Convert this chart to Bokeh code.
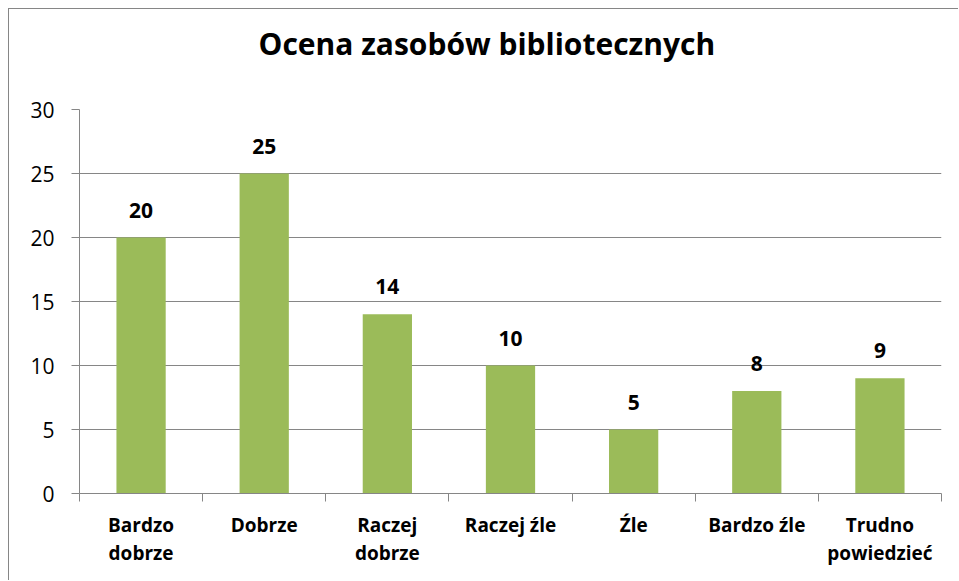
from bokeh.plotting import figure
from bokeh.models import ColumnDataSource, LabelSet, FixedTicker, Range1d, Title
from bokeh.core.properties import value
from bokeh.embed import file_html
from bokeh.resources import INLINE

# ---- data ----
title_text = "Ocena zasobów bibliotecznych"
categories = ["Bardzo\ndobrze", "Dobrze", "Raczej\ndobrze", "Raczej źle", "Źle", "Bardzo źle", "Trudno\npowiedzieć"]
values = [20, 25, 14, 10, 5, 8, 9]
y_ticks = [0, 5, 10, 15, 20, 25, 30]

GRAY = "#868686"
GREEN = "#9BBB59"
FONT = "Open Sans"

positions = list(range(len(categories)))
source = ColumnDataSource(dict(
    x=positions,
    top=values,
    label=[str(v) for v in values],
))

p = figure(
    width=950, height=572, title=None,
    output_backend="svg", toolbar_location=None,
    x_range=Range1d(-0.5, len(categories) - 0.5),
    y_range=Range1d(y_ticks[0], y_ticks[-1]),
    min_border_left=70, min_border_right=18,
    min_border_top=100, min_border_bottom=88,
    styles={"margin-left": "8px", "margin-top": "8px",
            "border-left": f"1px solid {GRAY}", "border-top": f"1px solid {GRAY}"},
)
p.outline_line_color = None
p.background_fill_color = "white"
p.border_fill_color = "white"

# spacer between title and plot frame, then the real title above it
p.add_layout(Title(text=" ", text_font=FONT, text_font_size="10px", standoff=25), "above")
p.add_layout(Title(text=title_text, align="left", offset=179, standoff=10,
                   text_font=FONT, text_font_size="30px", text_font_style="bold",
                   text_color="black"), "above")

p.vbar(x="x", top="top", width=0.4, bottom=0, source=source,
       fill_color=GREEN, line_color=None)

labels = LabelSet(x="x", y="top", text="label", source=source,
                  text_align="center", text_baseline="alphabetic", y_offset=20,
                  text_font=value(FONT), text_font_size=value("21px"),
                  text_font_style=value("bold"), text_color=value("black"))
p.add_layout(labels)

# y axis
yax = p.yaxis[0]
yax.ticker = FixedTicker(ticks=y_ticks)
yax.axis_line_color = GRAY
yax.major_tick_line_color = GRAY
yax.major_tick_out = 8
yax.major_tick_in = 0
yax.minor_tick_line_color = None
yax.major_label_standoff = 17
yax.major_label_text_font = FONT
yax.major_label_text_font_size = "21px"
yax.major_label_text_color = "black"

# x axis: labels at category centres, tick marks at boundaries
xax = p.xaxis[0]
xax.ticker = FixedTicker(ticks=positions,
                         minor_ticks=[i - 0.5 for i in range(len(categories) + 1)])
xax.major_label_overrides = {i: c for i, c in zip(positions, categories)}
xax.axis_line_color = GRAY
xax.major_tick_line_color = None
xax.major_tick_out = 8
xax.major_tick_in = 0
xax.minor_tick_line_color = GRAY
xax.minor_tick_out = 8
xax.minor_tick_in = 0
xax.major_label_standoff = 10
xax.major_label_text_font = FONT
xax.major_label_text_font_size = "19px"
xax.major_label_text_font_style = "bold"
xax.major_label_text_color = "black"
xax.major_label_text_line_height = 1.1

p.xgrid.grid_line_color = None
p.ygrid.grid_line_color = GRAY
p.ygrid.grid_line_width = 1
p.ygrid.ticker = FixedTicker(ticks=y_ticks)

open("out.html", "w").write(file_html(p, INLINE))
